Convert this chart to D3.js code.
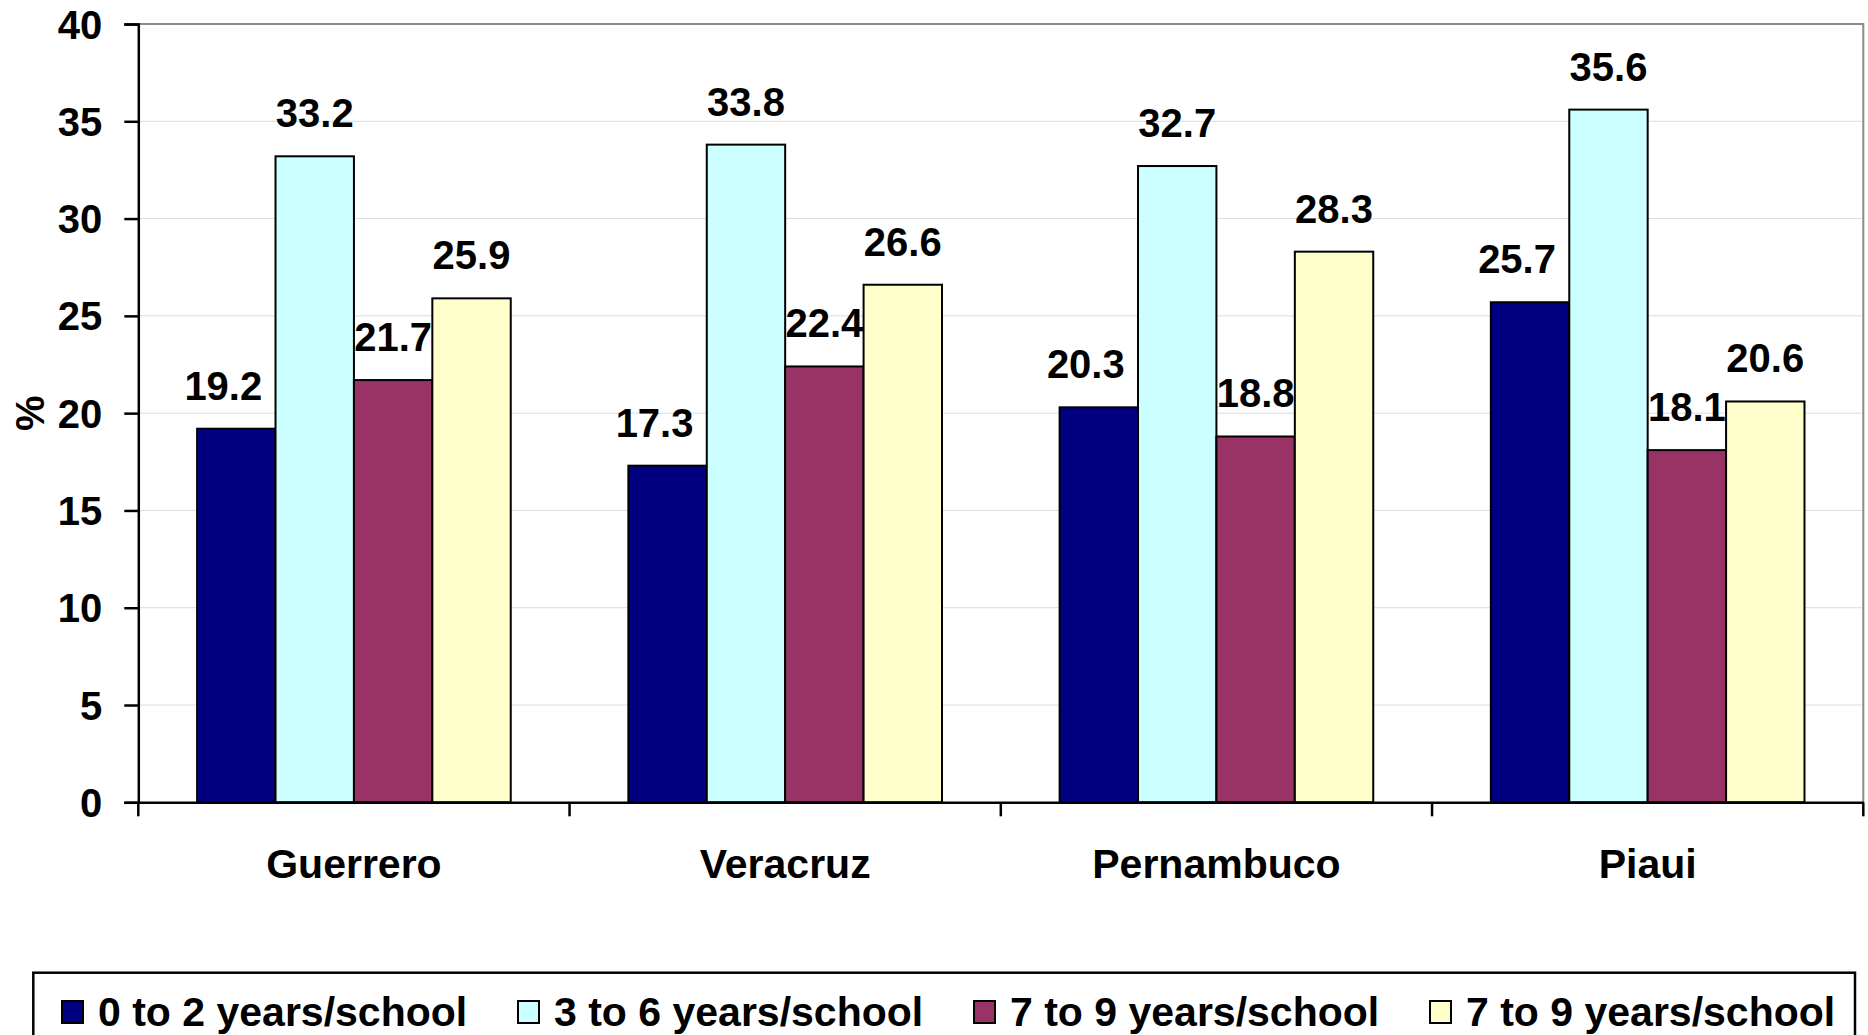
<!DOCTYPE html>
<html>
<head>
<meta charset="utf-8">
<script src="https://cdn.jsdelivr.net/npm/d3@7"></script>
<style>
  html, body { margin: 0; padding: 0; background: #fff; overflow: hidden; }
  svg { display: block; font-family: "Liberation Sans", Arial, sans-serif; font-weight: bold; }
</style>
</head>
<body>
<svg id="chart" width="1868" height="1035"></svg>
<script>
const categories = ["Guerrero", "Veracruz", "Pernambuco", "Piaui"];
const seriesNames = ["0 to 2 years/school", "3 to 6 years/school", "7 to 9 years/school", "7 to 9 years/school"];
const seriesColors = ["#000080", "#CCFFFF", "#993366", "#FFFFCC"];
const values = [
  [19.2, 33.2, 21.7, 25.9],
  [17.3, 33.8, 22.4, 26.6],
  [20.3, 32.7, 18.8, 28.3],
  [25.7, 35.6, 18.1, 20.6]
];
const yTicks = [0, 5, 10, 15, 20, 25, 30, 35, 40];

const W = 1868, H = 1035;
const plot = { left: 138.3, right: 1863.3, top: 24, bottom: 802.3 };
const svg = d3.select("#chart");

const x = d3.scaleBand().domain(categories).range([plot.left, plot.right]).paddingInner(0).paddingOuter(0);
const barW = x.bandwidth() / 5.5;
const xs = d3.scaleBand().domain(d3.range(4)).range([barW * 0.75, barW * 4.75]);
const y = d3.scaleLinear().domain([0, 40]).range([plot.bottom, plot.top]);

// gridlines
svg.append("g").selectAll("line").data(yTicks.filter(t => t > 0 && t < 40)).join("line")
  .attr("x1", plot.left).attr("x2", plot.right)
  .attr("y1", d => y(d)).attr("y2", d => y(d))
  .attr("stroke", "#dcdcdc").attr("stroke-width", 1);

// plot border top & right
svg.append("path")
  .attr("d", `M${plot.left},${y(40)}H${plot.right}V${plot.bottom}`)
  .attr("fill", "none").attr("stroke", "#8c8c8c").attr("stroke-width", 2);

// bars
const groups = svg.append("g").selectAll("g").data(categories).join("g")
  .attr("transform", c => `translate(${x(c)},0)`);
groups.selectAll("rect").data((c, i) => values[i].map((v, s) => ({ v, s }))).join("rect")
  .attr("x", d => xs(d.s)).attr("width", xs.bandwidth())
  .attr("y", d => y(d.v)).attr("height", d => y(0) - y(d.v))
  .attr("fill", d => seriesColors[d.s])
  .attr("stroke", "#000").attr("stroke-width", 2);

// value labels
const labelDx = [-13, 0, 0, 0];
groups.selectAll("text").data((c, i) => values[i].map((v, s) => ({ v, s }))).join("text")
  .attr("x", d => xs(d.s) + xs.bandwidth() / 2 + labelDx[d.s])
  .attr("y", d => y(d.v) - 29)
  .attr("text-anchor", "middle")
  .attr("font-size", 40)
  .attr("fill", "#000")
  .text(d => d.v.toFixed(1));

// y axis
const yAxis = svg.append("g").attr("transform", `translate(${plot.left},0)`)
  .call(d3.axisLeft(y).tickValues(yTicks).tickSize(14).tickPadding(22).tickFormat(d3.format("d")));
yAxis.select(".domain").attr("stroke", "#000").attr("stroke-width", 2.5);
yAxis.selectAll(".tick line").attr("stroke", "#000").attr("stroke-width", 2.5);
yAxis.selectAll(".tick text").attr("font-size", 40).attr("font-family", "Liberation Sans, Arial, sans-serif")
  .attr("font-weight", "bold").attr("fill", "#000").attr("dy", "0.35em");

// x axis
const xAxis = svg.append("g").attr("transform", `translate(0,${plot.bottom})`)
  .call(d3.axisBottom(x).tickSize(0).tickPadding(47));
xAxis.select(".domain").attr("stroke", "#000").attr("stroke-width", 2.5);
xAxis.selectAll(".tick text").attr("font-size", 41).attr("font-family", "Liberation Sans, Arial, sans-serif")
  .attr("font-weight", "bold").attr("fill", "#000");
const bounds = categories.map(c => x(c)).concat([x(categories[categories.length - 1]) + x.bandwidth()]);
svg.append("g").selectAll("line").data(bounds).join("line")
  .attr("x1", d => d).attr("x2", d => d)
  .attr("y1", plot.bottom).attr("y2", plot.bottom + 14)
  .attr("stroke", "#000").attr("stroke-width", 2.5);

// y axis title
svg.append("text")
  .attr("transform", `translate(44,${(plot.top + plot.bottom) / 2}) rotate(-90)`)
  .attr("text-anchor", "middle").attr("font-size", 40).attr("fill", "#000")
  .text("%");

// legend
const legend = svg.append("g");
legend.append("rect")
  .attr("x", 33.3).attr("y", 972.7).attr("width", 1855 - 33.3).attr("height", 120)
  .attr("fill", "#fff").attr("stroke", "#000").attr("stroke-width", 2.5);
const legX = d3.scaleLinear().domain([0, 1]).range([62, 62 + 456]);
const items = legend.selectAll("g.item").data(seriesNames).join("g").attr("class", "item")
  .attr("transform", (d, i) => `translate(${legX(i)},0)`);
items.append("rect").attr("x", 0).attr("y", 1001).attr("width", 21).attr("height", 22)
  .attr("fill", (d, i) => seriesColors[i]).attr("stroke", "#000").attr("stroke-width", 2);
items.append("text").attr("x", 36).attr("y", 1026).attr("font-size", 41).attr("fill", "#000")
  .text(d => d);
</script>
</body>
</html>
